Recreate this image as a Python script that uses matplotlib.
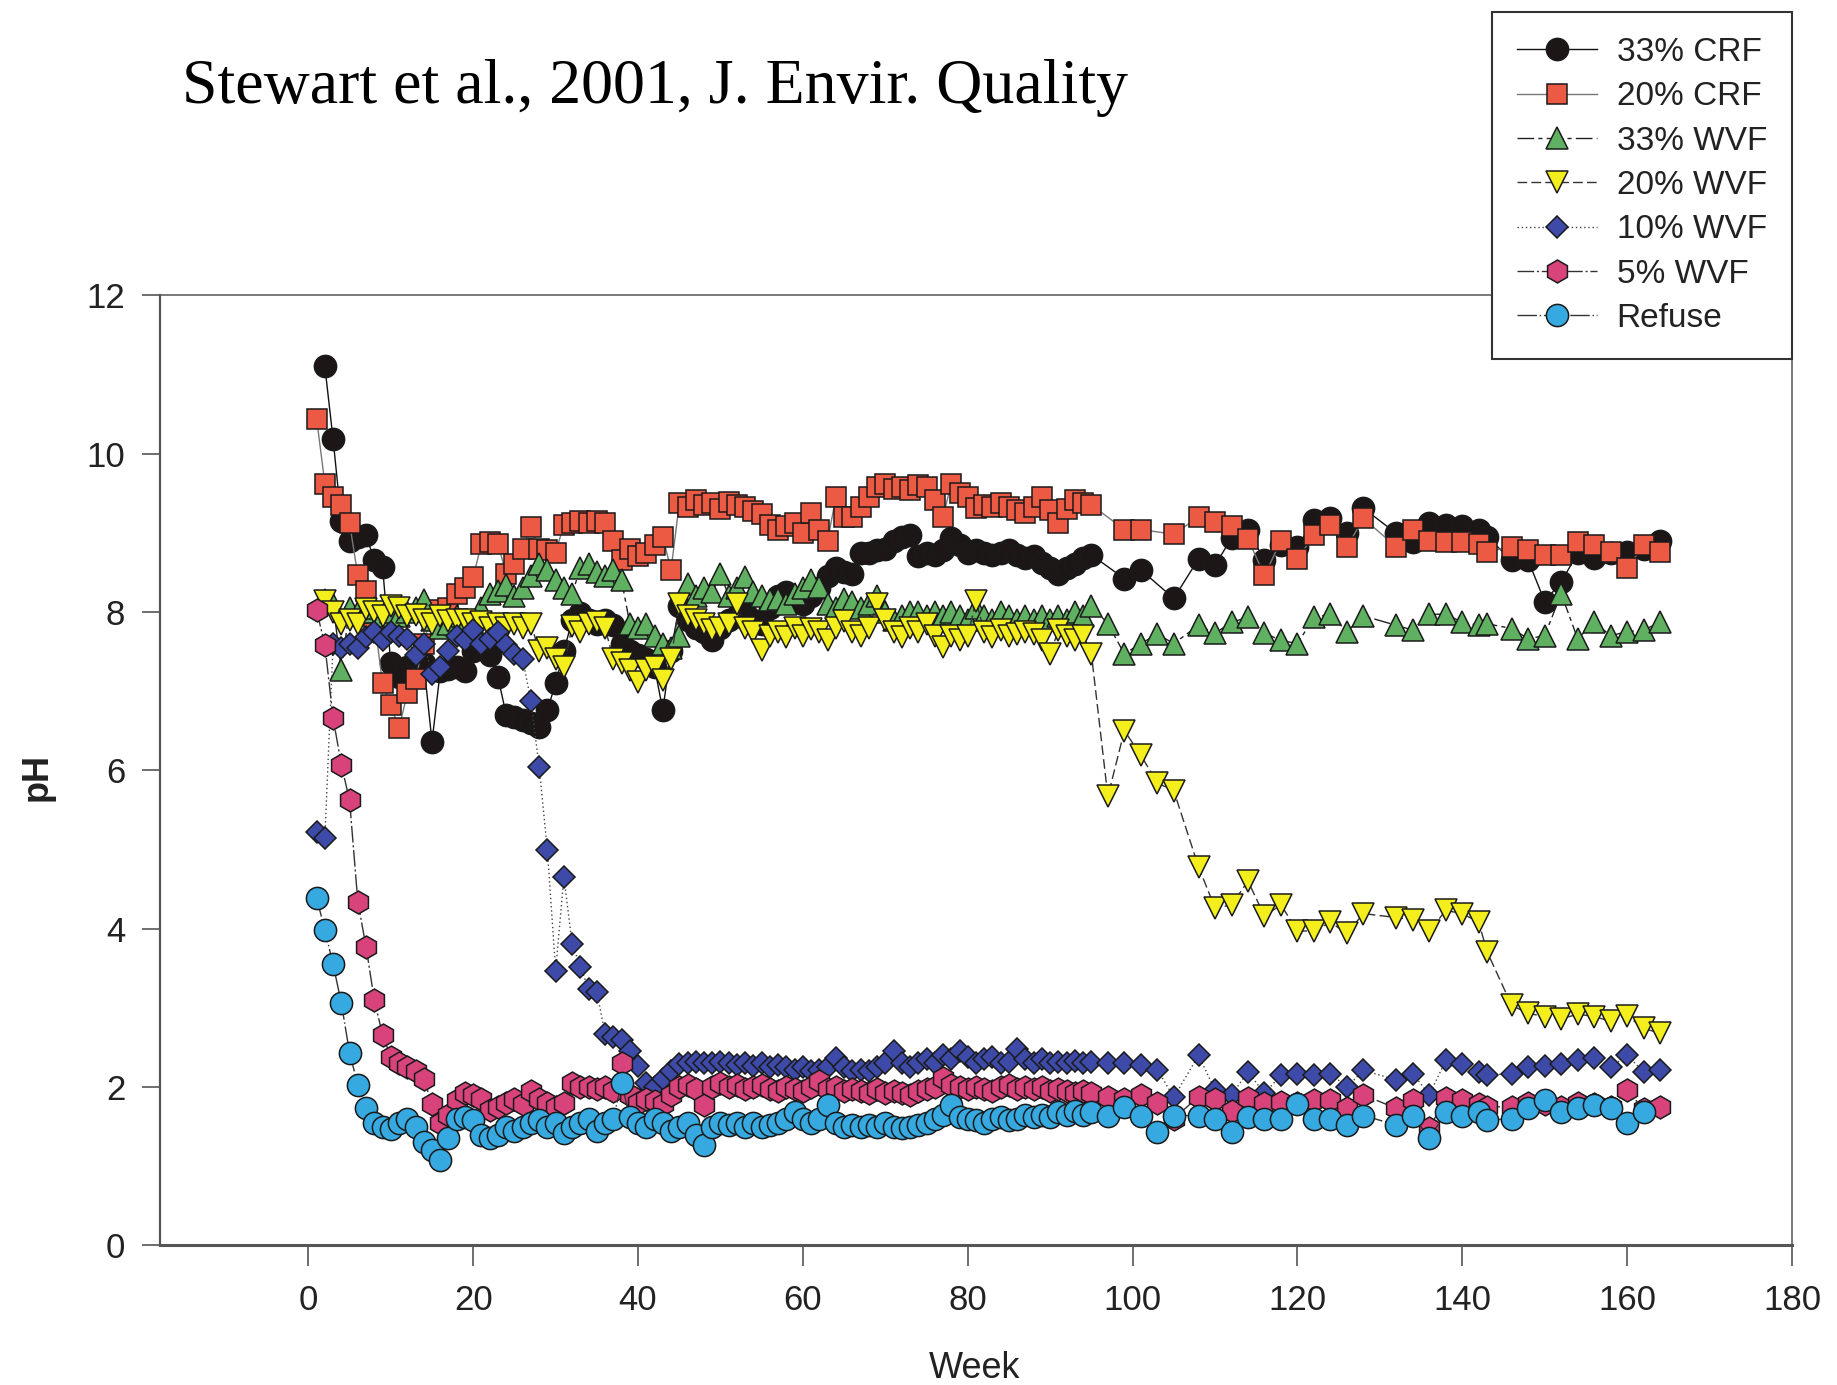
import matplotlib
matplotlib.use("Agg")
import matplotlib.pyplot as plt

plt.rcParams['font.family'] = ['Liberation Sans', 'DejaVu Sans']

# weekly readings start at week *_start, later readings are listed with their weeks
crf33_start = 2
crf33_early = [11.10, 10.18, 9.15, 8.90, 8.95, 8.97, 8.65, 8.57, 7.35, 7.18,
               7.30, 7.40, 7.35, 6.36, 7.25, 7.28, 7.30, 7.25, 7.50, 7.60,
               7.45, 7.18, 6.70, 6.67, 6.63, 6.60, 6.55, 6.76, 7.10, 7.50,
               7.90, 7.98, 7.90, 7.85, 7.90, 7.84, 7.60, 7.50, 7.45, 7.40,
               7.30, 6.76, 7.50, 8.08, 7.90, 7.80, 7.75, 7.64, 7.80, 7.90,
               7.95, 8.00, 7.90, 7.85, 8.05, 8.20, 8.25, 8.15, 8.10, 8.20,
               8.30, 8.45, 8.55, 8.50, 8.48, 8.74, 8.75, 8.78, 8.80, 8.90,
               8.95, 8.97, 8.70, 8.74, 8.72, 8.78, 8.93, 8.85, 8.74, 8.78,
               8.75, 8.72, 8.74, 8.78, 8.72, 8.68, 8.70, 8.62, 8.55, 8.48,
               8.55, 8.61, 8.68, 8.72]
crf33_late_wk = [99, 101, 105, 108, 110, 112, 114, 116, 118, 120, 122, 124, 126, 128,
                 132, 134, 136, 138, 140, 142, 143, 146, 148, 150, 152, 154, 156, 158,
                 160, 162, 164]
crf33_late = [8.42, 8.53, 8.17, 8.67, 8.59, 8.93, 9.03, 8.65, 8.85, 8.82, 9.16, 9.18, 8.99, 9.31,
              8.99, 8.88, 9.12, 9.10, 9.08, 9.03, 8.95, 8.65, 8.65, 8.13, 8.38, 8.74, 8.68, 8.75,
              8.76, 8.80, 8.90]

crf20_start = 1
crf20_early = [10.44, 9.62, 9.45, 9.35, 9.12, 8.46, 8.27, 7.90, 7.10, 6.82,
               6.53, 6.97, 7.15, 7.60, 8.02, 7.95, 8.05, 8.23, 8.30, 8.44,
               8.86, 8.88, 8.86, 8.48, 8.60, 8.80, 9.07, 8.80, 8.78, 8.75,
               9.10, 9.12, 9.15, 9.12, 9.15, 9.12, 8.90, 8.65, 8.80, 8.70,
               8.75, 8.85, 8.95, 8.53, 9.37, 9.33, 9.41, 9.35, 9.37, 9.30,
               9.39, 9.35, 9.33, 9.28, 9.23, 9.10, 9.04, 9.08, 9.12, 9.00,
               9.25, 9.04, 8.90, 9.45, 9.20, 9.20, 9.33, 9.45, 9.58, 9.62,
               9.55, 9.58, 9.54, 9.60, 9.58, 9.41, 9.20, 9.62, 9.50, 9.45,
               9.31, 9.35, 9.33, 9.38, 9.33, 9.29, 9.25, 9.33, 9.45, 9.29,
               9.12, 9.30, 9.41, 9.38, 9.35]
crf20_late_wk = crf33_late_wk
crf20_late = [9.04, 9.04, 8.98, 9.20, 9.14, 9.08, 8.92, 8.46, 8.90, 8.67, 8.97, 9.10, 8.82, 9.18,
              8.82, 9.03, 8.90, 8.88, 8.88, 8.86, 8.76, 8.82, 8.78, 8.72, 8.72, 8.88, 8.84, 8.76,
              8.55, 8.84, 8.76]

wvf_late_wk = [97, 99, 101, 103, 105, 108, 110, 112, 114, 116, 118, 120, 122, 124, 126, 128,
               132, 134, 136, 138, 140, 142, 143, 146, 148, 150, 152, 154, 156, 158, 160,
               162, 164]

wvf33_start = 2
wvf33_early = [8.15, 8.10, 7.27, 8.05, 8.00, 8.00, 8.05, 7.95, 8.00, 7.95,
               8.00, 8.05, 8.15, 7.90, 7.80, 7.85, 7.95, 7.90, 7.85, 8.05,
               8.23, 8.27, 8.34, 8.20, 8.30, 8.45, 8.61, 8.53, 8.40, 8.30,
               8.23, 8.55, 8.60, 8.50, 8.45, 8.53, 8.40, 7.85, 7.80, 7.85,
               7.70, 7.60, 7.55, 7.70, 8.35, 8.20, 8.30, 8.25, 8.48, 8.20,
               8.30, 8.44, 8.25, 8.20, 8.15, 8.16, 8.10, 8.23, 8.30, 8.40,
               8.32, 8.10, 8.05, 8.16, 8.12, 8.05, 8.10, 8.20, 8.00, 7.90,
               7.95, 8.00, 8.00, 7.95, 8.00, 7.95, 8.00, 7.95, 7.90, 8.05,
               7.95, 7.90, 8.00, 7.95, 7.90, 7.95, 7.90, 7.95, 7.90, 7.95,
               7.90, 8.00, 7.95, 8.08]
wvf33_late = [7.85, 7.47, 7.60, 7.72, 7.60, 7.83, 7.73, 7.87, 7.93, 7.73, 7.64, 7.60, 7.93, 7.97,
              7.75, 7.95, 7.83, 7.77, 7.97, 7.97, 7.87, 7.83, 7.85, 7.79, 7.66, 7.70, 8.23, 7.66,
              7.87, 7.70, 7.75, 7.77, 7.87]

wvf20_start = 2
wvf20_early = [8.14, 8.00, 7.85, 7.90, 7.85, 8.04, 8.00, 7.95, 8.08, 8.05,
               7.95, 7.96, 7.90, 7.85, 7.95, 7.88, 7.90, 7.90, 7.85, 7.87,
               7.80, 7.85, 7.80, 7.85, 7.80, 7.85, 7.50, 7.55, 7.40, 7.30,
               7.82, 7.75, 7.85, 7.87, 7.80, 7.40, 7.35, 7.26, 7.12, 7.27,
               7.30, 7.14, 7.40, 8.10, 7.95, 7.90, 7.85, 7.77, 7.80, 7.85,
               8.10, 7.80, 7.75, 7.52, 7.70, 7.75, 7.68, 7.80, 7.70, 7.78,
               7.75, 7.64, 7.80, 7.89, 7.75, 7.70, 7.80, 8.10, 7.90, 7.75,
               7.68, 7.80, 7.75, 7.85, 7.70, 7.56, 7.70, 7.64, 7.70, 8.14,
               7.75, 7.68, 7.77, 7.70, 7.72, 7.75, 7.72, 7.64, 7.47, 7.77,
               7.70, 7.64, 7.70, 7.47]
wvf20_late = [5.67, 6.50, 6.19, 5.84, 5.74, 4.78, 4.26, 4.30, 4.60, 4.16, 4.30, 3.97, 3.97, 4.08,
              3.94, 4.19, 4.14, 4.11, 3.97, 4.23, 4.19, 4.08, 3.71, 3.03, 2.93, 2.89, 2.86, 2.92,
              2.89, 2.83, 2.90, 2.74, 2.68]

wvf10_start = 1
wvf10_early = [5.22, 5.15, 7.60, 7.55, 7.60, 7.55, 7.68, 7.75, 7.65, 7.75,
               7.70, 7.66, 7.45, 7.60, 7.22, 7.30, 7.50, 7.70, 7.65, 7.77,
               7.60, 7.66, 7.75, 7.58, 7.47, 7.40, 6.88, 6.04, 4.99, 3.47,
               4.65, 3.81, 3.52, 3.24, 3.20, 2.67, 2.63, 2.60, 2.45, 2.27,
               2.05, 2.00, 2.10, 2.20, 2.29, 2.30, 2.32, 2.30, 2.30, 2.32,
               2.30, 2.28, 2.30, 2.27, 2.30, 2.25, 2.28, 2.25, 2.22, 2.25,
               2.20, 2.22, 2.25, 2.37, 2.25, 2.20, 2.22, 2.20, 2.25, 2.30,
               2.45, 2.30, 2.25, 2.30, 2.35, 2.30, 2.40, 2.35, 2.45, 2.38,
               2.30, 2.35, 2.38, 2.30, 2.32, 2.48, 2.35, 2.30, 2.35, 2.30,
               2.32, 2.30, 2.33, 2.30, 2.32]
wvf10_late = [2.30, 2.30, 2.28, 2.22, 1.87, 2.40, 1.96, 1.90, 2.19, 1.92, 2.15, 2.17, 2.15, 2.17,
              2.00, 2.21, 2.09, 2.17, 1.90, 2.34, 2.29, 2.19, 2.15, 2.17, 2.25, 2.27, 2.29, 2.34,
              2.37, 2.25, 2.40, 2.19, 2.21]

wvf5_start = 1
wvf5_early = [8.02, 7.58, 6.66, 6.07, 5.62, 4.34, 3.77, 3.10, 2.66, 2.38,
              2.30, 2.25, 2.20, 2.10, 1.79, 1.55, 1.65, 1.84, 1.92, 1.90,
              1.85, 1.71, 1.75, 1.80, 1.85, 1.78, 1.95, 1.85, 1.80, 1.75,
              1.80, 2.05, 2.00, 2.00, 1.98, 2.00, 1.95, 2.30, 1.90, 1.80,
              1.85, 1.82, 1.78, 1.90, 2.00, 2.02, 1.98, 1.77, 2.00, 2.05,
              2.00, 2.02, 1.98, 2.00, 2.02, 1.98, 1.95, 2.00, 1.98, 1.95,
              2.00, 2.08, 1.97, 2.00, 1.95, 1.97, 1.95, 1.93, 1.97, 1.92,
              1.95, 1.93, 1.90, 1.95, 1.97, 2.00, 2.12, 2.02, 2.00, 1.97,
              2.00, 1.98, 1.95, 2.00, 2.02, 1.97, 2.00, 1.98, 2.00, 1.95,
              1.97, 1.95, 1.92, 1.95, 1.93]
wvf5_late = [1.88, 1.85, 1.90, 1.80, 1.60, 1.88, 1.85, 1.70, 1.86, 1.80, 1.81, 1.80, 1.84, 1.84,
             1.73, 1.90, 1.73, 1.84, 1.48, 1.86, 1.84, 1.78, 1.75, 1.75, 1.80, 1.78, 1.75, 1.80,
             1.78, 1.75, 1.96, 1.72, 1.75]

refuse_start = 1
refuse_early = [4.39, 3.98, 3.55, 3.06, 2.43, 2.03, 1.73, 1.55, 1.50, 1.47,
                1.55, 1.60, 1.50, 1.30, 1.20, 1.08, 1.35, 1.60, 1.62, 1.58,
                1.40, 1.35, 1.40, 1.50, 1.45, 1.50, 1.55, 1.58, 1.50, 1.55,
                1.42, 1.50, 1.55, 1.60, 1.45, 1.55, 1.60, 2.05, 1.62, 1.55,
                1.50, 1.60, 1.55, 1.45, 1.50, 1.55, 1.40, 1.27, 1.50, 1.55,
                1.52, 1.55, 1.50, 1.55, 1.50, 1.52, 1.55, 1.60, 1.68, 1.60,
                1.55, 1.60, 1.77, 1.55, 1.50, 1.52, 1.50, 1.52, 1.50, 1.55,
                1.50, 1.48, 1.50, 1.52, 1.55, 1.60, 1.65, 1.77, 1.62, 1.60,
                1.58, 1.55, 1.60, 1.62, 1.58, 1.60, 1.65, 1.62, 1.65, 1.62,
                1.68, 1.65, 1.70, 1.65, 1.68]
refuse_late_wk = wvf_late_wk[:-1]
refuse_late = [1.63, 1.75, 1.64, 1.43, 1.64, 1.64, 1.60, 1.43, 1.62, 1.60, 1.60, 1.79, 1.60, 1.60,
               1.52, 1.64, 1.52, 1.64, 1.35, 1.68, 1.64, 1.69, 1.58, 1.60, 1.73, 1.83, 1.69, 1.73,
               1.77, 1.73, 1.54, 1.69]

labels = ['33% CRF', '20% CRF', '33% WVF', '20% WVF', '10% WVF', '5% WVF', 'Refuse']


def weeks(start, early, late_wk):
    return list(range(start, start + len(early))) + list(late_wk)


series = [
    (weeks(crf33_start, crf33_early, crf33_late_wk), crf33_early + crf33_late,
     dict(marker='o', ms=16, mfc='#1c1716', color='#111111', ls='-')),
    (weeks(crf20_start, crf20_early, crf20_late_wk), crf20_early + crf20_late,
     dict(marker='s', ms=14.5, mfc='#ec5a44', color='#777777', ls='-')),
    (weeks(wvf33_start, wvf33_early, wvf_late_wk), wvf33_early + wvf33_late,
     dict(marker='^', ms=15.5, mfc='#5fb060', color='#222222', ls=(0, (12, 3, 3, 3)))),
    (weeks(wvf20_start, wvf20_early, wvf_late_wk), wvf20_early + wvf20_late,
     dict(marker='v', ms=15.5, mfc='#f4ef1c', color='#333333', ls=(0, (7, 3)))),
    (weeks(wvf10_start, wvf10_early, wvf_late_wk), wvf10_early + wvf10_late,
     dict(marker='D', ms=11.5, mfc='#3d4aa8', color='#444444', ls=(0, (1, 2)))),
    (weeks(wvf5_start, wvf5_early, wvf_late_wk), wvf5_early + wvf5_late,
     dict(marker='h', ms=16.5, mfc='#d8437c', color='#333333', ls=(0, (12, 2, 1.5, 2)))),
    (weeks(refuse_start, refuse_early, refuse_late_wk), refuse_early + refuse_late,
     dict(marker='o', ms=16, mfc='#35a9e0', color='#333333', ls=(0, (14, 2, 1, 2)))),
]

fig = plt.figure(figsize=(18.37, 13.85), dpi=100)
ax = fig.add_axes([0.0871, 0.1008, 0.8884, 0.6861])

for (x, y, st), lab in zip(series, labels):
    ax.plot(x, y, label=lab, lw=1.0, mec='#1a1a1a', mew=1.1, **st)

ax.set_xlim(-18, 180)
ax.set_ylim(0, 12)
ax.set_xticks(range(0, 181, 20))
ax.set_yticks(range(0, 13, 2))
ax.tick_params(axis='y', length=13, width=1.2, pad=12, labelsize=25,
               colors='#555555', labelcolor='#222222')
ax.tick_params(axis='x', length=15, width=1.2, pad=13, labelsize=25,
               colors='#555555', labelcolor='#222222')
for side, lw in [('left', 1.6), ('bottom', 2.2), ('top', 1.1), ('right', 1.1)]:
    ax.spines[side].set_linewidth(lw)
    ax.spines[side].set_color('#555555')

ax.set_xlabel('Week', fontsize=26, color='#222222', va='center')
ax.xaxis.set_label_coords(0.4994, -0.13)
ax.set_ylabel('pH', fontsize=26, fontweight='bold', color='#222222', va='center', ha='center')
ax.yaxis.set_label_coords(-0.0754, 0.493)

leg = fig.legend(loc='upper right', bbox_to_anchor=(1792 / 1837, 1 - 12 / 1385),
                 bbox_transform=fig.transFigure, borderaxespad=0, fontsize=24,
                 labelspacing=0.4, handlelength=2.4, handletextpad=0.6, borderpad=0.75,
                 numpoints=1, fancybox=False, framealpha=1)
leg.get_frame().set_edgecolor('#333333')
leg.get_frame().set_linewidth(1.5)
for t in leg.get_texts():
    t.set_color('#222222')

fig.text(182 / 1837, 1 - 103 / 1385, 'Stewart et al., 2001, J. Envir. Quality',
         family=['Liberation Serif', 'DejaVu Serif'], fontsize=46, ha='left', va='baseline')

fig.savefig('out.png', dpi=100, facecolor='white')
